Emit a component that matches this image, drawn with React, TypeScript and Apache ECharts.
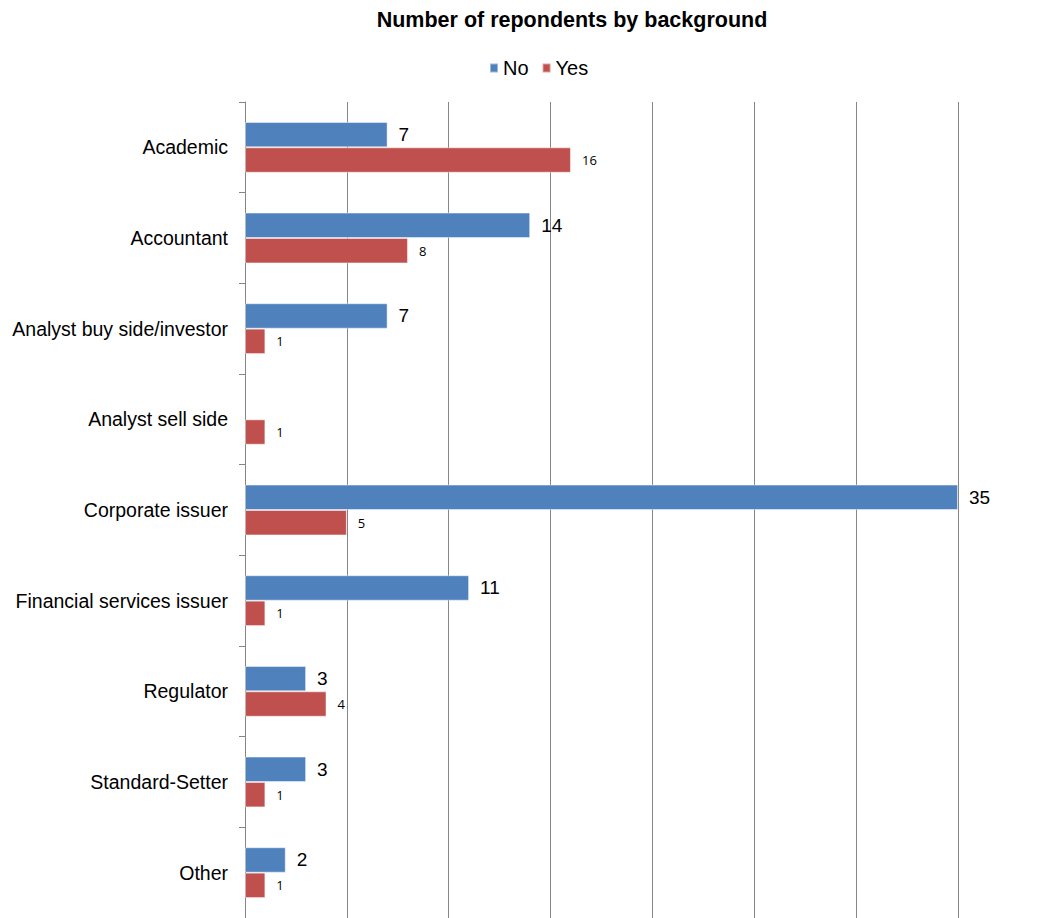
import React, { useEffect, useRef } from "react";
import * as echarts from "echarts";

const categories = [
  "Academic",
  "Accountant",
  "Analyst buy side/investor",
  "Analyst sell side",
  "Corporate issuer",
  "Financial services issuer",
  "Regulator",
  "Standard-Setter",
  "Other",
];
const noValues: (number | null)[] = [7, 14, 7, null, 35, 11, 3, 3, 2];
const yesValues: (number | null)[] = [16, 8, 1, 1, 5, 1, 4, 1, 1];

const FONT = "'Liberation Sans', Arial, sans-serif";

export default function App() {
  const ref = useRef<HTMLDivElement>(null);

  useEffect(() => {
    if (!ref.current) return;
    const chart = echarts.init(ref.current, null, { renderer: "svg" });
    chart.setOption({
      animation: false,
      backgroundColor: "#ffffff",
      title: {
        text: "Number of repondents by background",
        left: 567,
        top: 4,
        textAlign: "center",
        textStyle: { fontFamily: FONT, fontSize: 21.5, fontWeight: "bold", color: "#000" },
      },
      legend: {
        data: ["No", "Yes"],
        left: 484,
        top: 53,
        itemWidth: 8,
        itemHeight: 9,
        itemGap: 13,
        icon: "rect",
        textStyle: { fontFamily: FONT, fontSize: 20, color: "#000" },
      },
      grid: { left: 245, right: 94, top: 102, bottom: 0, containLabel: false },
      xAxis: {
        type: "value",
        min: 0,
        max: 35,
        interval: 5,
        axisLabel: { show: false },
        axisLine: { show: false },
        axisTick: { show: false },
        splitLine: { show: true, lineStyle: { color: "#868686", width: 1 } },
      },
      yAxis: {
        type: "category",
        data: categories,
        inverse: true,
        axisLine: { show: true, lineStyle: { color: "#868686", width: 1 } },
        axisTick: { show: true, length: 6, lineStyle: { color: "#868686" } },
        axisLabel: { fontFamily: FONT, fontSize: 19.5, color: "#000", margin: 17 },
        splitLine: { show: false },
      },
      series: [
        {
          name: "No",
          type: "bar",
          data: noValues,
          barGap: "0%",
          barCategoryGap: "44%",
          itemStyle: { color: "#4F81BD", borderColor: "rgba(255,255,255,0.45)", borderWidth: 1 },
          label: {
            show: true,
            position: "right",
            distance: 11,
            fontFamily: FONT,
            fontSize: 19,
            color: "#000",
          },
        },
        {
          name: "Yes",
          type: "bar",
          data: yesValues,
          barGap: "0%",
          barCategoryGap: "44%",
          itemStyle: { color: "#C0504D", borderColor: "rgba(255,255,255,0.45)", borderWidth: 1 },
          label: {
            show: true,
            position: "right",
            distance: 11,
            fontFamily: "'Open Sans', sans-serif",
            fontSize: 13,
            color: "#000",
          },
        },
      ],
    });
    return () => chart.dispose();
  }, []);

  return (
    <div
      ref={ref}
      style={{ position: "fixed", left: 0, top: 0, width: 1052, height: 918 }}
    />
  );
}
